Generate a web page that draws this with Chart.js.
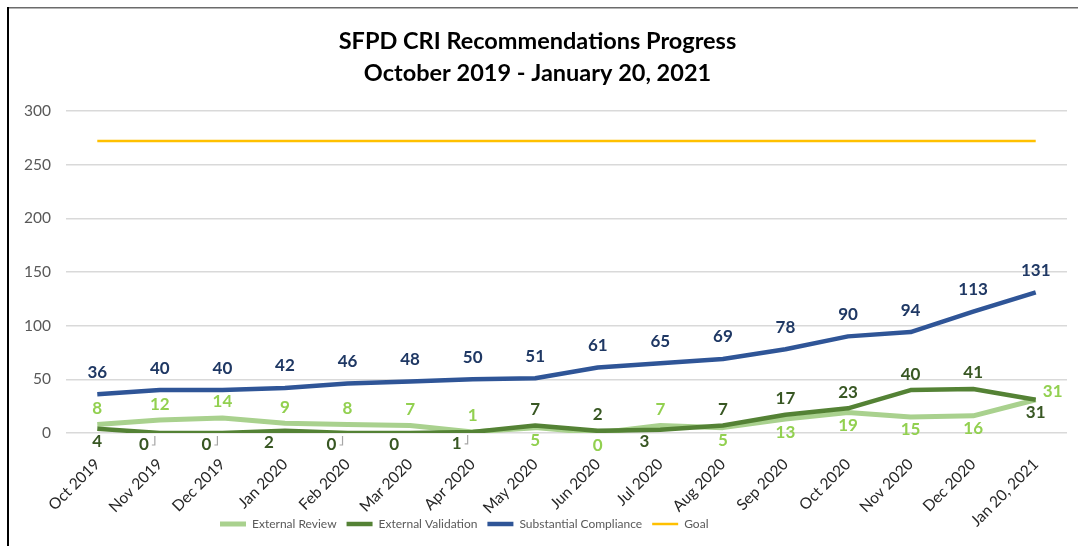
<!DOCTYPE html>
<html>
<head>
<meta charset="utf-8">
<script src="https://cdn.jsdelivr.net/npm/chart.js@4/dist/chart.umd.min.js"></script>
<style>
  html,body{margin:0;padding:0;background:#fff}
  #wrap{position:relative;width:1078px;height:546px}
</style>
</head>
<body>
<div id="wrap"><canvas id="cri"></canvas></div>
<script>
/* SFPD CRI progress — line chart */

const months=['Oct 2019','Nov 2019','Dec 2019','Jan 2020','Feb 2020','Mar 2020','Apr 2020','May 2020',
  'Jun 2020','Jul 2020','Aug 2020','Sep 2020','Oct 2020','Nov 2020','Dec 2020','Jan 20, 2021'];
const externalReview=[8,12,14,9,8,7,1,5,0,7,5,13,19,15,16,31];
const externalValidation=[4,0,0,2,0,0,1,7,2,3,7,17,23,40,41,31];
const substantialCompliance=[36,40,40,42,46,48,50,51,61,65,69,78,90,94,113,131];
const goal=[272,272,272,272,272,272,272,272,272,272,272,272,272,272,272,272];
const yTicks=[0,50,100,150,200,250,300];

const FONT='Lato, "Open Sans", sans-serif';

// where each value label sits: a=above, b=below, bl=below-left, bk=below-left + leader, r=right
const labelPos={
  'External Review':['a','a','a','a','a','a','a','b','b','a','b','b','b','b','b','r'],
  'External Validation':['b','bk','bk','bl','bk','bl','bk','a','a','bl','a','a','a','a','a','b'],
  'Substantial Compliance':['a','a','a','a','a','a','a','a','a','a','a','a','a','a','a','a']
};
const labelColor={'External Review':'#92D050','External Validation':'#385723','Substantial Compliance':'#1F3864'};

const valueLabels={
  id:'valueLabels',
  afterDatasetsDraw(chart){
    const ctx=chart.ctx;
    chart.data.datasets.forEach((ds,i)=>{
      const pos=labelPos[ds.label];if(!pos)return;
      const meta=chart.getDatasetMeta(i);
      const up=ds.label==='Substantial Compliance'?22:16;
      ctx.save();
      ctx.font='bold 17px '+FONT;
      ctx.fillStyle=labelColor[ds.label];
      ctx.textAlign='center';ctx.textBaseline='middle';
      meta.data.forEach((pt,j)=>{
        const p=pos[j];let x=pt.x,y=pt.y;
        if(p==='a')y-=up;
        else if(p==='b')y+=13;
        else if(p==='r'){x+=17;y-=8;}
        else{x-=16;y+=12;}
        ctx.fillText(ds.data[j],x,y);
        if(p==='bk'){
          ctx.save();ctx.strokeStyle='#A6A6A6';ctx.lineWidth=1.2;
          ctx.beginPath();ctx.moveTo(x+8,y);ctx.lineTo(pt.x-5,y);ctx.lineTo(pt.x-5,pt.y+3);ctx.stroke();
          ctx.restore();
        }
      });
      ctx.restore();
    });
  }
};

const frame={
  id:'frame',
  beforeDraw(chart){
    const ctx=chart.ctx;
    ctx.save();
    ctx.fillStyle='#fff';ctx.fillRect(0,0,chart.width,chart.height);
    ctx.fillStyle='#6b6b6b';ctx.fillRect(7,7,chart.width-7,1.5);
    ctx.fillStyle='#000';ctx.fillRect(7,7,2,chart.height-7);
    ctx.restore();
  },
  afterLayout(chart){
    // legend starts left of centre in the original
    const lg=chart.legend;
    if(lg)lg.left=220-lg.options.labels.padding;
    // let the rotated month labels run below the squeezed axis box
    chart.scales.x.bottom=chart.height;
  }
};

new Chart(document.getElementById('cri'),{
  type:'line',
  data:{labels:months,datasets:[
    {label:'External Review',data:externalReview,borderColor:'#A9D18E',backgroundColor:'#A9D18E',borderWidth:5,order:4},
    {label:'External Validation',data:externalValidation,borderColor:'#548235',backgroundColor:'#548235',borderWidth:4.5,order:3},
    {label:'Substantial Compliance',data:substantialCompliance,borderColor:'#2F5597',backgroundColor:'#2F5597',borderWidth:4.5,order:2},
    {label:'Goal',data:goal,borderColor:'#FFC000',backgroundColor:'#FFC000',borderWidth:2.5,order:1}
  ]},
  options:{
    responsive:true,maintainAspectRatio:false,animation:false,
    elements:{point:{radius:0,hoverRadius:0},line:{tension:0,borderJoinStyle:'round',borderCapStyle:'butt'}},
    layout:{padding:{left:8,right:11,top:0,bottom:6}},
    plugins:{
      title:{display:true,text:['SFPD CRI Recommendations Progress','October 2019 - January 20, 2021'],
        color:'#000',font:{family:FONT,size:23.5,weight:'bold',lineHeight:1.36},padding:{top:25,bottom:22}},
      legend:{position:'bottom',align:'start',
        labels:{usePointStyle:true,pointStyle:'line',pointStyleWidth:26,color:'#595959',
          font:{family:FONT,size:12},padding:10,sort:(a,b)=>a.datasetIndex-b.datasetIndex}},
      tooltip:{enabled:false}
    },
    scales:{
      x:{offset:true,grid:{display:false},border:{display:false},
        ticks:{color:'#262626',font:{family:FONT,size:15.5},maxRotation:45,minRotation:45,autoSkip:false,padding:14},
        afterFit(s){s.height=75;}},
      y:{min:0,max:300,border:{display:false},
        grid:{color:'#D9D9D9',lineWidth:1.5,drawTicks:false},
        ticks:{stepSize:50,color:'#595959',font:{family:FONT,size:15.5},padding:15,
          callback:v=>yTicks.includes(v)?v:''},
        afterFit(s){s.width=58;}}
    }
  },
  plugins:[frame,valueLabels]
});
</script>
</body>
</html>
